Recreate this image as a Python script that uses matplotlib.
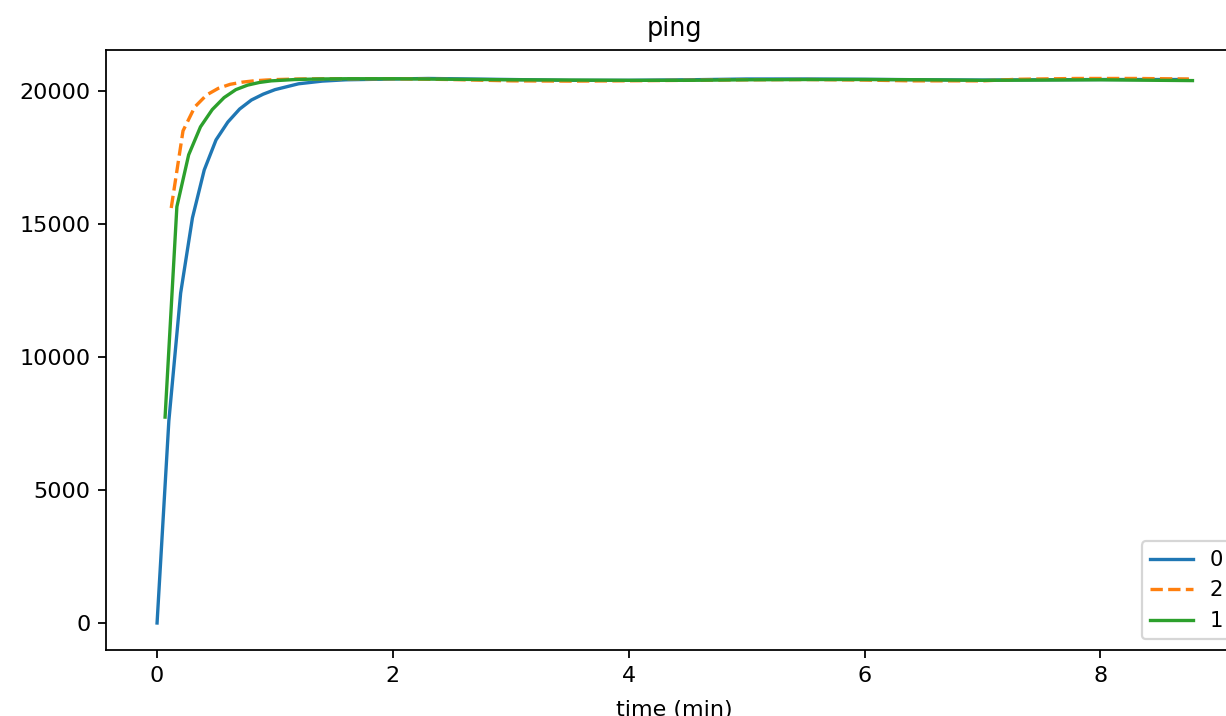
import matplotlib
matplotlib.use("Agg")
import matplotlib.pyplot as plt

# series "0" (blue)
t0 = [0.0, 0.1, 0.2, 0.3, 0.4, 0.5, 0.6, 0.7, 0.8, 0.9, 1.0, 1.2, 1.4, 1.6, 2.0,
      2.3, 3.0, 3.5, 4.0, 4.5, 5.0, 5.5, 6.0, 6.5, 7.0, 7.5, 8.0, 8.5, 8.73]
v0 = [0, 7600, 12400, 15230, 17030, 18160, 18830, 19320, 19660, 19880, 20050,
      20270, 20370, 20420, 20450, 20470, 20430, 20400, 20400, 20420, 20450,
      20450, 20440, 20420, 20410, 20420, 20430, 20430, 20430]

# series "2" (orange, dashed)
t2 = [0.12, 0.22, 0.32, 0.42, 0.52, 0.62, 0.72, 0.82, 0.92, 1.02, 1.2, 1.5, 2.0,
      2.5, 3.0, 3.5, 3.9, 4.5, 5.0, 5.5, 6.0, 6.4, 7.0, 7.3, 7.8, 8.3, 8.75]
v2 = [15600, 18500, 19400, 19850, 20100, 20250, 20330, 20380, 20410, 20430,
      20450, 20460, 20460, 20430, 20380, 20370, 20380, 20400, 20420, 20430,
      20410, 20380, 20380, 20440, 20470, 20470, 20450]

# series "1" (green)
t1 = [0.068, 0.168, 0.268, 0.368, 0.468, 0.568, 0.668, 0.768, 0.868, 0.968,
      1.168, 1.368, 1.6, 2.0, 2.5, 3.0, 3.5, 4.0, 4.5, 5.0, 5.5, 6.0, 6.5,
      7.0, 7.5, 8.0, 8.5, 8.78]
v1 = [7740, 15650, 17600, 18650, 19300, 19750, 20050, 20220, 20320, 20380,
      20430, 20450, 20460, 20460, 20440, 20420, 20410, 20400, 20400, 20420,
      20430, 20430, 20420, 20400, 20410, 20420, 20400, 20390]

W, H, DPI = 1226, 716, 160
fig = plt.figure(figsize=(W / DPI, H / DPI), dpi=DPI)
# the reference is a crop of a wider figure: the axes run past the right edge
ax = fig.add_axes([106 / W, (H - 650) / H, (1242 - 106) / W, 600 / H])

ax.plot(t0, v0, label="0")
ax.plot(t2, v2, "--", label="2")
ax.plot(t1, v1, label="1")

ax.set_xlim(-0.433, 9.2)
ax.set_ylim(-1015, 21540)
ax.set_xticks([0, 2, 4, 6, 8])
ax.set_yticks([0, 5000, 10000, 15000, 20000])
ax.set_title("ping", fontsize=11.5, pad=6.5)
ax.set_xlabel("time (min)", labelpad=6.5)
ax.legend(loc="lower right", fontsize=9.5)

fig.savefig("out.png", dpi=DPI)
